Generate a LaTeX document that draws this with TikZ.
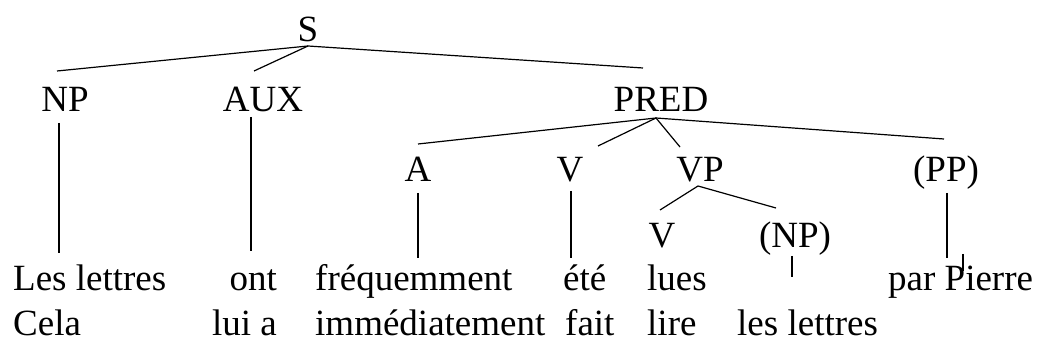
\documentclass[tikz,border=0pt]{standalone}
\usepackage{fontspec}
\setmainfont{Liberation Serif}
\begin{document}
\begin{tikzpicture}[x=1pt,y=-1pt,
  lbl/.style={inner sep=0pt,anchor=base,font=\fontsize{37}{44}\selectfont},
  word/.style={inner sep=0pt,anchor=base west,font=\fontsize{37}{44}\selectfont},
  wordr/.style={inner sep=0pt,anchor=base east,font=\fontsize{37}{44}\selectfont},
  branch/.style={line width=1.2pt,black}]
\useasboundingbox (0,0) rectangle (1037,352);

% category labels
\node[lbl] (S)    at (308,42)  {S};
\node[lbl] (NP)   at (65,112)  {NP};
\node[lbl] (AUX)  at (263,112) {AUX};
\node[lbl] (PRED) at (661,112) {PRED};
\node[lbl] (A)    at (418,182) {A};
\node[lbl] (V)    at (570,182) {V};
\node[lbl] (VP)   at (700,182) {VP};
\node[lbl] (PP)   at (946,182) {(PP)};
\node[lbl] (V2)   at (662,248) {V};
\node[lbl] (NP2)  at (795,248) {(NP)};

% words, first line
\node[word]  (w1) at (13,291)  {Les lettres};
\node[wordr] (w2) at (277,291) {ont};
\node[word]  (w3) at (315,291) {fréquemment};
\node[word]  (w4) at (563,291) {été};
\node[word]  (w5) at (647,291) {lues};
\node[word]  (w6) at (888,291) {par Pierre};
% words, second line
\node[word]  (u1) at (13,336)  {Cela};
\node[wordr] (u2) at (277,336) {lui a};
\node[word]  (u3) at (315,336) {immédiatement};
\node[word]  (u4) at (565,336) {fait};
\node[word]  (u5) at (647,336) {lire};
\node[word]  (u6) at (737,336) {les lettres};

% branch end points
\coordinate (S-b)    at (308,46);
\coordinate (NP-t)   at (57,71);
\coordinate (AUX-t)  at (254,71);
\coordinate (PRED-t) at (643,68);
\coordinate (NP-b)   at (59,123);
\coordinate (NP-e)   at (59,253);
\coordinate (AUX-b)  at (251,117);
\coordinate (AUX-e)  at (251,251);
\coordinate (PRED-b) at (656,118);
\coordinate (A-t)    at (418,144);
\coordinate (V-t)    at (598,146);
\coordinate (VP-t)   at (680,147);
\coordinate (PP-t)   at (944,139);
\coordinate (A-b)    at (418,193);
\coordinate (A-e)    at (418,258);
\coordinate (V-b)    at (571,191);
\coordinate (V-e)    at (571,258);
\coordinate (VP-b)   at (698,186);
\coordinate (V2-t)   at (660,210);
\coordinate (NP2-t)  at (776,208);
\coordinate (NP2-b)  at (792,256);
\coordinate (NP2-e)  at (792,277);
\coordinate (PP-b)   at (947,193);
\coordinate (PP-e)   at (947,258);
\coordinate (PP-s)   at (963,254);
\coordinate (PP-f)   at (963,271);

% branches
\draw[branch] (NP-t) -- (S-b) -- (PRED-t);
\draw[branch] (S-b) -- (AUX-t);
\draw[branch] (NP-b) -- (NP-e);
\draw[branch] (AUX-b) -- (AUX-e);
\draw[branch] (A-t) -- (PRED-b) -- (PP-t);
\draw[branch] (V-t) -- (PRED-b) -- (VP-t);
\draw[branch] (A-b) -- (A-e);
\draw[branch] (V-b) -- (V-e);
\draw[branch] (V2-t) -- (VP-b) -- (NP2-t);
\draw[branch] (NP2-b) -- (NP2-e);
\draw[branch] (PP-b) -- (PP-e);
\draw[branch] (PP-s) -- (PP-f);
\end{tikzpicture}
\end{document}
